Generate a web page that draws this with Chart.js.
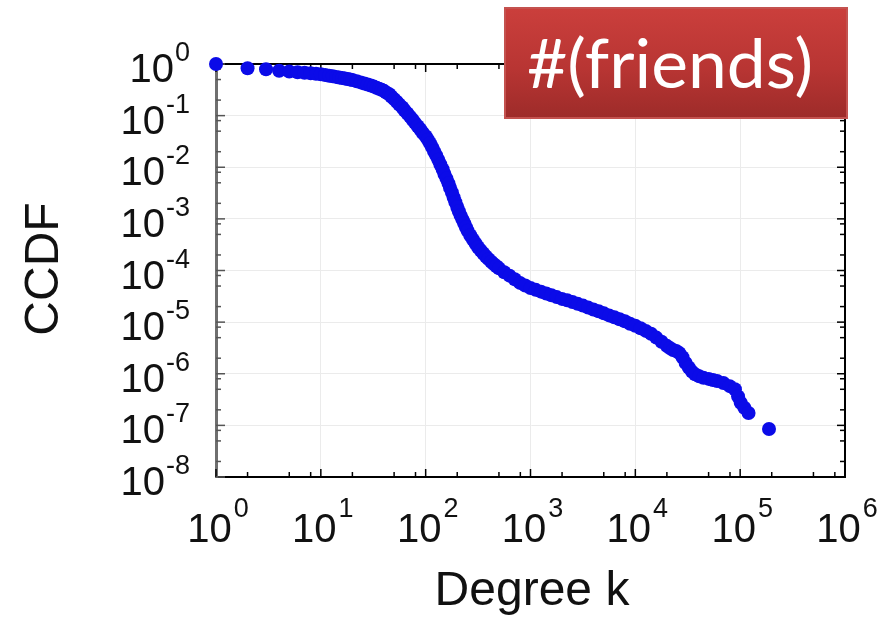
<!DOCTYPE html>
<html>
<head>
<meta charset="utf-8">
<script src="https://cdn.jsdelivr.net/npm/chart.js@4"></script>
<style>
  html, body { margin: 0; padding: 0; background: #fff; }
  canvas { display: block; }
</style>
</head>
<body>
<canvas id="ccdfChart" width="893" height="620"></canvas>
<script>
// degree k and CCDF
const degreeK = [
  1, 2, 3, 4, 5, 6, 7, 8, 9, 10, 11, 12, 13, 14, 15, 16, 17, 18, 19, 20,
  22, 24, 26, 28, 30, 32, 34, 36, 38,
  40, 42, 45, 47, 50, 53, 56, 60, 63, 67, 71, 75, 79, 84, 89, 94,
  100, 105, 110, 115, 120, 126, 132, 138, 145, 151, 158, 165, 171, 178, 185, 192,
  200, 207, 215, 224, 233, 242, 251, 266, 282, 299, 316, 335, 355, 376, 398, 422,
  447, 473, 501, 562, 631, 708, 794, 891,
  1000, 1122, 1259, 1413, 1585, 1778, 1995, 2239, 2512, 2818, 3162, 3548, 3981,
  4467, 5012, 5623, 6310, 7079, 7943, 8913,
  10000, 11220, 12590, 14130, 15850, 17780, 19950, 21380, 22910, 24550, 26300,
  28180, 30200, 32360, 34670, 37150, 40740, 44670, 50120, 54950, 60260, 69180,
  79430, 89130, 95500, 101200, 109600, 120200, 188400
];
const ccdf = [
  1.0, 0.83, 0.79, 0.74, 0.716, 0.69, 0.676, 0.66, 0.645, 0.63, 0.612, 0.594, 0.578, 0.562, 0.548, 0.536, 0.524, 0.513, 0.50, 0.49,
  0.462, 0.44, 0.419, 0.40, 0.384, 0.365, 0.345, 0.331, 0.316,
  0.302, 0.281, 0.260, 0.234, 0.209, 0.186, 0.164, 0.144, 0.126, 0.110, 0.0955, 0.0832, 0.0724, 0.0624, 0.0537, 0.0462,
  0.0398, 0.0340, 0.0291, 0.0245, 0.0204, 0.0170, 0.0139, 0.0113, 9.16e-3, 7.41e-3, 6.03e-3, 4.88e-3, 3.98e-3, 3.24e-3, 2.60e-3, 2.11e-3,
  1.70e-3, 1.41e-3, 1.17e-3, 9.77e-4, 8.22e-4, 6.92e-4, 5.89e-4, 4.81e-4, 3.98e-4, 3.33e-4, 2.82e-4, 2.44e-4, 2.14e-4, 1.87e-4, 1.66e-4, 1.48e-4,
  1.33e-4, 1.21e-4, 1.10e-4, 9.23e-5, 7.94e-5, 6.76e-5, 5.75e-5, 5.13e-5,
  4.57e-5, 4.22e-5, 3.89e-5, 3.59e-5, 3.31e-5, 3.05e-5, 2.82e-5, 2.66e-5, 2.45e-5, 2.26e-5, 2.09e-5, 1.91e-5, 1.76e-5,
  1.62e-5, 1.48e-5, 1.35e-5, 1.24e-5, 1.14e-5, 1.04e-5, 9.33e-6,
  8.51e-6, 7.59e-6, 6.76e-6, 5.96e-6, 5.01e-6, 4.17e-6, 3.47e-6, 3.16e-6, 2.88e-6, 2.75e-6, 2.51e-6,
  2.09e-6, 1.62e-6, 1.32e-6, 1.10e-6, 9.77e-7, 8.91e-7, 8.32e-7, 7.94e-7, 7.59e-7, 7.24e-7, 6.61e-7,
  5.75e-7, 5.01e-7, 3.63e-7, 2.75e-7, 2.19e-7, 1.74e-7, 8.51e-8
];

const xTickValues = [1, 10, 100, 1e3, 1e4, 1e5, 1e6];
const xTickExp = ['0', '1', '2', '3', '4', '5', '6'];
const yTickValues = [1e-8, 1e-7, 1e-6, 1e-5, 1e-4, 1e-3, 1e-2, 1e-1, 1];
const yTickExp = ['-8', '-7', '-6', '-5', '-4', '-3', '-2', '-1', '0'];
const minorMultiples = [2, 5, 8];
const badgeText = '#(friends)';

const labelFont = '"Liberation Sans", Arial, Helvetica, sans-serif';

// frame, inward ticks, tick labels, axis titles and the red badge
const frame = {
  id: 'frame',
  beforeDatasetsDraw(chart) {
    const ctx = chart.ctx;
    const a = chart.chartArea;
    const xs = chart.scales.x, ys = chart.scales.y;
    ctx.save();
    ctx.strokeStyle = '#000';
    ctx.lineWidth = 2;
    ctx.beginPath();
    ctx.moveTo(a.left, a.top); ctx.lineTo(a.right, a.top);
    ctx.moveTo(a.right, a.top); ctx.lineTo(a.right, a.bottom);
    ctx.stroke();

    ctx.lineWidth = 1.5;
    const tick = (x1, y1, x2, y2) => { ctx.beginPath(); ctx.moveTo(x1, y1); ctx.lineTo(x2, y2); ctx.stroke(); };
    xTickValues.forEach((v, i) => {
      const px = xs.getPixelForValue(v);
      tick(px, a.bottom, px, a.bottom - 8);
      tick(px, a.top, px, a.top + 8);
      if (i < xTickValues.length - 1) {
        minorMultiples.forEach(m => {
          const p = xs.getPixelForValue(v * m);
          tick(p, a.bottom, p, a.bottom - 5);
          tick(p, a.top, p, a.top + 5);
        });
      }
    });
    yTickValues.forEach((v, i) => {
      const py = ys.getPixelForValue(v);
      ctx.strokeStyle = '#555';
      tick(a.left, py, a.left + 9, py);
      ctx.strokeStyle = '#000';
      tick(a.right, py, a.right - 8, py);
      if (i < yTickValues.length - 1) {
        minorMultiples.forEach(m => {
          const p = ys.getPixelForValue(v * m);
          ctx.strokeStyle = '#555';
          tick(a.left, p, a.left + 5, p);
          ctx.strokeStyle = '#000';
          tick(a.right, p, a.right - 5, p);
        });
      }
    });
    ctx.restore();
  },
  afterDraw(chart) {
    const ctx = chart.ctx;
    const a = chart.chartArea;
    const xs = chart.scales.x, ys = chart.scales.y;
    ctx.save();
    ctx.fillStyle = '#111';
    ctx.textAlign = 'left';
    ctx.textBaseline = 'alphabetic';
    const big = '40px ' + labelFont, small = '27px ' + labelFont;

    xTickValues.forEach((v, i) => {
      const px = xs.getPixelForValue(v);
      ctx.font = big; const w1 = ctx.measureText('10').width;
      ctx.font = small; const w2 = ctx.measureText(xTickExp[i]).width;
      const x0 = px + 2 - (w1 + 2 + w2) / 2;
      ctx.font = big; ctx.fillText('10', x0, a.bottom + 65);
      ctx.font = small; ctx.fillText(xTickExp[i], x0 + w1 + 2, a.bottom + 40);
    });
    yTickValues.forEach((v, i) => {
      const py = ys.getPixelForValue(v);
      ctx.font = small; const w2 = ctx.measureText(yTickExp[i]).width;
      ctx.font = big; const w1 = ctx.measureText('10').width;
      const xEnd = 190;
      ctx.font = small; ctx.fillText(yTickExp[i], xEnd - w2, py - 3);
      ctx.font = big; ctx.fillText('10', xEnd - w2 - 1 - w1, py + 18);
    });

    // axis titles
    ctx.font = '48px ' + labelFont;
    ctx.textAlign = 'center';
    ctx.fillText('Degree k', 532, 605);
    ctx.save();
    ctx.translate(58, 269);
    ctx.rotate(-Math.PI / 2);
    ctx.fillText('CCDF', 0, 0);
    ctx.restore();

    // red badge
    const bx = 504, by = 7, bw = 344, bh = 112;
    const g = ctx.createLinearGradient(0, by, 0, by + bh);
    g.addColorStop(0, '#cb3f3c');
    g.addColorStop(0.55, '#b83533');
    g.addColorStop(1, '#9d2b29');
    ctx.fillStyle = g;
    ctx.fillRect(bx, by, bw, bh);
    ctx.strokeStyle = '#c4524f';
    ctx.lineWidth = 2;
    ctx.strokeRect(bx + 1, by + 1, bw - 2, bh - 2);

    ctx.fillStyle = '#fff';
    ctx.textAlign = 'left';
    ctx.font = '68px Lato, "Open Sans", sans-serif';
    const tw = ctx.measureText(badgeText).width;
    ctx.translate(527, 88);
    ctx.scale(286 / tw, 1);
    ctx.fillText(badgeText, 0, 0);
    ctx.restore();
  }
};

const points = degreeK.map((k, i) => ({ x: k, y: ccdf[i] }));

new Chart(document.getElementById('ccdfChart'), {
  type: 'scatter',
  data: {
    datasets: [{
      data: points,
      backgroundColor: '#0b0be8',
      borderColor: '#0b0be8',
      pointRadius: 7,
      pointHoverRadius: 7,
      borderWidth: 0,
      clip: false
    }]
  },
  options: {
    responsive: false,
    animation: false,
    events: [],
    layout: { padding: { left: 216, right: 48, top: 64, bottom: 143 } },
    plugins: { legend: { display: false }, tooltip: { enabled: false } },
    scales: {
      x: {
        type: 'logarithmic',
        min: 1,
        max: 1e6,
        afterBuildTicks: (scale) => { scale.ticks = xTickValues.map(v => ({ value: v })); },
        ticks: { display: false },
        grid: { color: '#ebebeb', lineWidth: 1, drawTicks: false },
        border: { color: '#000', width: 2 }
      },
      y: {
        type: 'logarithmic',
        min: 1e-8,
        max: 1,
        afterBuildTicks: (scale) => { scale.ticks = yTickValues.map(v => ({ value: v })); },
        ticks: { display: false },
        grid: { color: '#ebebeb', lineWidth: 1, drawTicks: false },
        border: { color: '#6f6f6f', width: 3 }
      }
    }
  },
  plugins: [frame]
});
</script>
</body>
</html>
